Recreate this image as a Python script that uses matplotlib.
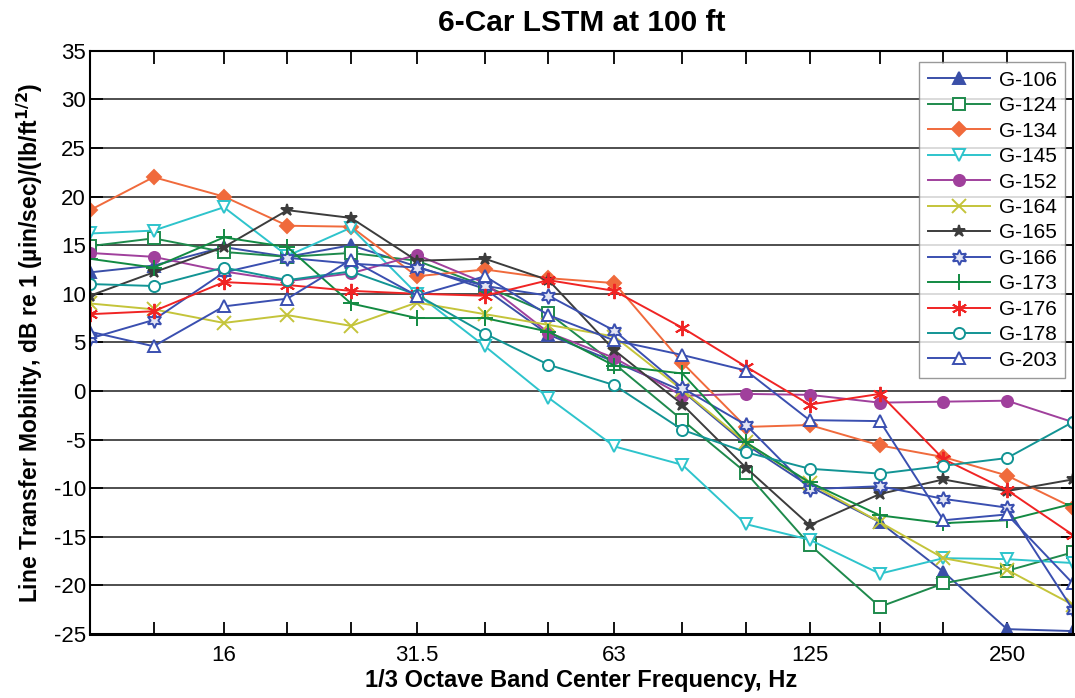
import matplotlib
matplotlib.use('Agg')
import matplotlib.pyplot as plt
from matplotlib.ticker import FixedLocator, NullFormatter, FixedFormatter

plt.rcParams['font.family'] = ['Liberation Sans', 'DejaVu Sans']
plt.rcParams['axes.unicode_minus'] = False

# 1/3 octave band centre frequencies, Hz
freqs = [10, 12.5, 16, 20, 25, 31.5, 40, 50, 63, 80, 100, 125, 160, 200, 250, 315]
tick_freqs = [16, 31.5, 63, 125, 250]
tick_labels = ['16', '31.5', '63', '125', '250']

# Line transfer mobility, dB, one list per site
g106 = [12.2, 12.9, 14.8, 13.8, 15.0, 12.8, 10.5, 5.8, 3.0, 0.0, -5.5, -9.8, -13.5, -18.6, -24.5, -24.7]
g124 = [14.9, 15.7, 14.3, 13.8, 14.2, 13.4, 10.8, 8.0, 2.8, -3.0, -8.4, -15.8, -22.2, -19.8, -18.5, -16.6]
g134 = [18.6, 22.0, 20.0, 17.0, 16.9, 11.8, 12.5, 11.6, 11.1, 2.9, -3.7, -3.5, -5.6, -6.8, -8.7, -12.0]
g145 = [16.2, 16.5, 18.9, 13.9, 16.8, 10.0, 4.6, -0.7, -5.7, -7.6, -13.7, -15.3, -18.8, -17.2, -17.3, -17.7]
g152 = [14.2, 13.8, 12.3, 11.3, 12.1, 14.0, 11.1, 6.0, 3.4, -0.5, -0.3, -0.4, -1.2, -1.1, -1.0, -3.2]
g164 = [9.0, 8.4, 7.0, 7.8, 6.7, 9.1, 7.9, 6.8, 5.6, 0.1, -5.3, -9.5, -13.5, -17.2, -18.4, -22.0]
g165 = [9.8, 12.2, 14.8, 18.6, 17.8, 13.4, 13.6, 11.4, 4.2, -1.4, -7.9, -13.8, -10.6, -9.1, -10.3, -9.1]
g166 = [5.4, 7.3, 12.2, 13.7, 13.1, 12.7, 10.8, 9.8, 6.2, 0.3, -3.5, -10.1, -9.8, -11.1, -12.0, -22.5]
g173 = [13.6, 12.7, 15.8, 14.8, 9.0, 7.5, 7.5, 6.1, 2.6, 1.8, -5.3, -9.4, -12.8, -13.6, -13.3, -11.6]
g176 = [7.9, 8.2, 11.2, 10.9, 10.3, 10.0, 9.8, 11.4, 10.3, 6.5, 2.5, -1.4, -0.3, -7.0, -10.2, -14.8]
g178 = [11.0, 10.8, 12.7, 11.4, 12.3, 9.9, 5.9, 2.7, 0.6, -4.0, -6.3, -8.0, -8.5, -7.7, -6.9, -3.2]
g203 = [6.1, 4.6, 8.7, 9.5, 13.5, 9.8, 11.8, 7.8, 5.2, 3.7, 2.1, -3.0, -3.1, -13.3, -12.7, -19.8]

# (label, values, colour, marker, marker face, marker size)
series = [
    ('G-106', g106, '#3a4fa8', '^', '#3a4fa8', 8),
    ('G-124', g124, '#1e8a4c', 's', 'white', 8),
    ('G-134', g134, '#f06a3c', 'D', '#f06a3c', 7),
    ('G-145', g145, '#2ec4cc', 'v', 'white', 8),
    ('G-152', g152, '#a0409c', 'o', '#a0409c', 8),
    ('G-164', g164, '#c4c43a', 'x', 'none', 10),
    ('G-165', g165, '#3c3c3c', '*', '#3c3c3c', 9),
    ('G-166', g166, '#3a4fb0', (6, 1, 0), '#e4e6f4', 11),
    ('G-173', g173, '#128a42', '+', 'none', 12),
    ('G-176', g176, '#f02424', (6, 2, 0), 'none', 11),
    ('G-178', g178, '#129494', 'o', 'white', 8),
    ('G-203', g203, '#3a4fb0', '^', 'white', 9),
]

fig = plt.figure(figsize=(10.75, 6.98), dpi=100)
ax = fig.add_axes([0.0837, 0.0917, 0.9143, 0.8356])

ax.yaxis.grid(True, color='#404040', linewidth=1.3, zorder=0)
ax.set_axisbelow(True)

for name, vals, col, mk, face, size in series:
    ax.plot(freqs, vals, color=col, linewidth=1.4, marker=mk, markersize=size,
            markerfacecolor=face, markeredgecolor=col, markeredgewidth=1.4,
            label=name)

ax.set_xscale('log')
ax.set_xlim(10, 315)
ax.set_ylim(-25, 35)
ax.set_yticks(range(-25, 36, 5))

ax.xaxis.set_major_locator(FixedLocator(tick_freqs))
ax.xaxis.set_major_formatter(FixedFormatter(tick_labels))
ax.xaxis.set_minor_locator(FixedLocator(freqs))
ax.xaxis.set_minor_formatter(NullFormatter())

ax.tick_params(axis='both', which='both', direction='in', top=True, right=True,
               length=9, width=1.3, color='black')
ax.tick_params(axis='x', labelsize=16, pad=8)
ax.tick_params(axis='y', labelsize=16, pad=3)

for sp in ax.spines.values():
    sp.set_linewidth(1.5)
ax.spines['bottom'].set_linewidth(2.2)

ax.set_title('6-Car LSTM at 100 ft', fontsize=21.5, fontweight='bold', pad=14)
ax.set_xlabel('1/3 Octave Band Center Frequency, Hz', fontsize=17,
              fontweight='bold', labelpad=2)
ax.set_ylabel('Line Transfer Mobility, dB re 1 (\u00b5in/sec)/(lb/ft$^{\\mathbf{1/2}}$)',
              fontsize=16.5, fontweight='bold', labelpad=6)

leg = ax.legend(loc='upper right', bbox_to_anchor=(0.992, 0.98), fontsize=15,
                frameon=True, fancybox=False, edgecolor='#808080',
                handlelength=3.0, labelspacing=0.31, borderpad=0.4,
                handletextpad=0.4, borderaxespad=0.0)
leg.get_frame().set_linewidth(1.0)

fig.savefig('out.png', dpi=100)
